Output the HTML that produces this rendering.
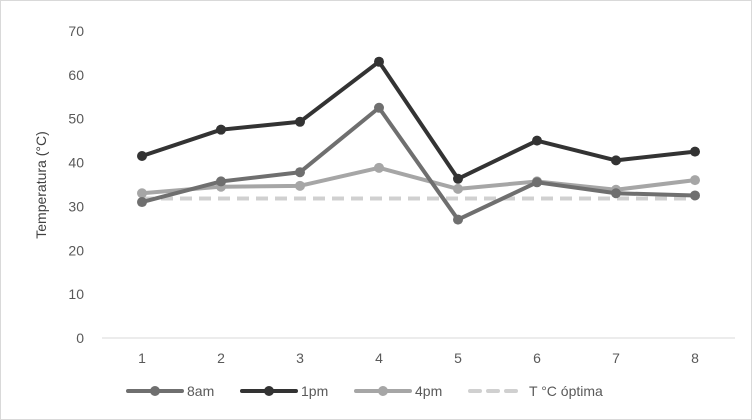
<!DOCTYPE html>
<html><head><meta charset="utf-8">
<style>
body{margin:0;background:#fff;}
svg{display:block;font-family:"Liberation Sans",sans-serif;}
</style></head>
<body>
<svg id="chart" width="752" height="420">
<rect x="0.5" y="0.5" width="751" height="419" fill="#fff" stroke="#d9d9d9"/>
</svg>
<script>
const categories=[1,2,3,4,5,6,7,8];
const yTicks=[0,10,20,30,40,50,60,70];
const s8am=[31,35.7,37.8,52.5,27,35.5,33,32.5];
const s1pm=[41.5,47.5,49.3,63,36.3,45,40.5,42.5];
const s4pm=[33,34.5,34.7,38.8,34,35.7,33.8,36];
const sOpt=[31.8,31.8,31.8,31.8,31.8,31.8,31.8,31.8];
const NS='http://www.w3.org/2000/svg';
const svg=document.getElementById('chart');
const x=i=>142+i*79;
const y=v=>338-v*(307/70);
function mk(t,a){const e=document.createElementNS(NS,t);for(const k in a)e.setAttribute(k,a[k]);svg.appendChild(e);return e;}
yTicks.forEach(v=>{
  const t=mk('text',{x:84,y:y(v)+5,'text-anchor':'end','font-size':14,fill:'#595959'});t.textContent=v;
  
  
});
const ax=mk('line',{x1:102,x2:735,y1:y(0),y2:y(0),stroke:'#d9d9d9','stroke-width':1});


categories.forEach((c,i)=>{
  const t=mk('text',{x:x(i),y:363,'text-anchor':'middle','font-size':14,fill:'#595959'});t.textContent=c;
  
  
});
const yt=mk('text',{x:46,y:185,'text-anchor':'middle','font-size':14,fill:'#404040',transform:'rotate(-90 46 185)'});
yt.textContent='Temperatura (°C)';


function series(data,color,name,dash,marker){
  const p=mk('polyline',{points:data.map((v,i)=>x(i)+','+y(v)).join(' '),fill:'none',stroke:color,'stroke-width':4,'stroke-linejoin':'round'});
  if(dash)p.setAttribute('stroke-dasharray',dash);
  
  
  if(marker)data.forEach((v,i)=>{
    const c=mk('circle',{cx:x(i),cy:y(v),r:5,fill:color});
    
    
  });
}
series(sOpt,'#d0d0d0','optima','12 7',false);
series(s4pm,'#a6a6a6','4pm',null,true);
series(s8am,'#6f6f6f','8am',null,true);
series(s1pm,'#333333','1pm',null,true);
const legend=[['8am','#6f6f6f',128,false],['1pm','#333333',242,false],['4pm','#a6a6a6',356,false],['T °C óptima','#d0d0d0',470,true]];
legend.forEach(([lab,col,lx,d])=>{
  const l=mk('line',{x1:lx,x2:lx+54,y1:391,y2:391,stroke:col,'stroke-width':4,'stroke-linecap':'round'});
  if(d)l.setAttribute('stroke-dasharray','10 8');
  
  
  if(!d){const c=mk('circle',{cx:lx+27,cy:391,r:5,fill:col});
  
  }
  const t=mk('text',{x:lx+59,y:396,'font-size':14,fill:'#595959'});t.textContent=lab;
  
  
});
</script>
</body></html>
